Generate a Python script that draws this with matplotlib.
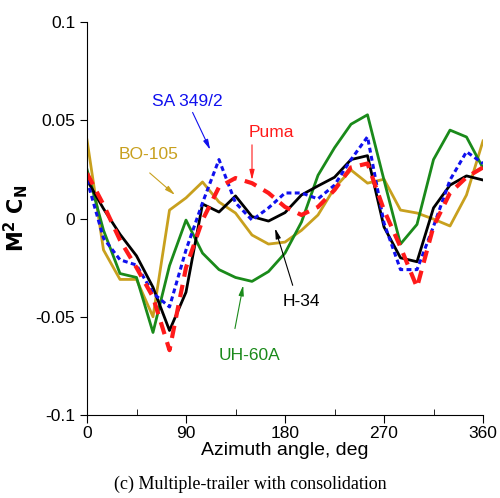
import matplotlib
matplotlib.use('Agg')
import matplotlib.pyplot as plt
import numpy as np

# azimuth stations (deg)
azimuth = [0, 15, 30, 45, 60, 75, 90, 105, 120, 135, 150, 165, 180,
           195, 210, 225, 240, 255, 270, 285, 300, 315, 330, 345, 360]

# M^2 C_N
h34 = [0.0196, 0.005, -0.008, -0.019, -0.035, -0.057, -0.0375, 0.0074, 0.0033,
       0.0115, 0.001, -0.0013, 0.003, 0.012, 0.0166, 0.021, 0.030, 0.032,
       -0.0043, -0.020, -0.022, 0.0054, 0.017, 0.0217, 0.0196]
uh60a = [0.025, -0.006, -0.028, -0.030, -0.058, -0.024, -0.0008, -0.0176, -0.026,
         -0.030, -0.032, -0.027, -0.0176, -0.0018, 0.022, 0.036, 0.048, 0.0528,
         0.0196, -0.013, -0.003, 0.030, 0.045, 0.0415, 0.0257]
bo105 = [0.040, -0.016, -0.031, -0.031, -0.050, 0.0043, 0.0105, 0.0186, 0.0084,
         0.0028, -0.0084, -0.013, -0.012, -0.006, 0.0018, 0.0156, 0.0247, 0.018,
         0.020, 0.0043, 0.0028, -0.0003, -0.0038, 0.012, 0.0395]
sa349 = [0.0196, -0.010, -0.021, -0.0237, -0.038, -0.045, -0.016, 0.008, 0.030,
         0.008, -0.0008, 0.0054, 0.013, 0.013, 0.010, 0.017, 0.030, 0.0416,
         -0.0023, -0.026, -0.026, -0.004, 0.0196, 0.034, 0.028]
puma = [0.023, 0.007, -0.011, -0.025, -0.040, -0.067, -0.025, -0.0008, 0.016,
        0.0206, 0.018, 0.013, 0.0059, 0.0018, 0.0059, 0.0145, 0.026, 0.028,
        0.0043, -0.0145, -0.035, -0.004, 0.013, 0.021, 0.026]

plt.rcParams['font.family'] = ['Liberation Sans', 'DejaVu Sans']

fig = plt.figure(figsize=(5.0, 4.98), dpi=100)
ax = fig.add_axes([0.174, 0.1667, 0.792, 0.789])

ax.plot(azimuth, bo105, color='#c8a01e', lw=2)
ax.plot(azimuth, uh60a, color='#1a8a1a', lw=2)
ax.plot(azimuth, h34, color='black', lw=2)
ax.plot(azimuth, sa349, color='#1010ee', lw=2.2, linestyle=(0, (1.6, 1.1)))
ax.plot(azimuth, puma, color='#ff1a1a', lw=3, linestyle=(0, (3, 2)))

ax.set_xlim(0, 360)
ax.set_ylim(-0.1, 0.1)
ax.set_xticks([0, 90, 180, 270, 360])
ax.set_xticks([45, 135, 225, 315], minor=True)
ax.set_yticks([-0.1, -0.05, 0, 0.05, 0.1])
ax.set_yticklabels(['-0.1', '-0.05', '0', '0.05', '0.1'])
ax.tick_params(axis='x', which='major', direction='out', length=6, labelsize=12.5, pad=2)
ax.tick_params(axis='x', which='minor', direction='in', length=4)
ax.tick_params(axis='y', direction='out', length=5, labelsize=12.5)
ax.spines['top'].set_visible(False)
ax.spines['right'].set_visible(False)

ax.set_xlabel('Azimuth angle, deg', fontsize=14, labelpad=1)
ax.set_ylabel(r'$\mathbf{M^2\ C_N}$', fontsize=15, labelpad=4)

def arrow(xy_text, xy_head, color):
    ax.annotate('', xy=xy_head, xytext=xy_text,
                arrowprops=dict(arrowstyle='-|>,head_length=0.6,head_width=0.15',
                                color=color, lw=0.8, shrinkA=0, shrinkB=0))

ax.text(91, 0.0594, 'SA 349/2', color='#1010ee', fontsize=12.5, ha='center', va='center')
arrow((96, 0.054), (112, 0.035), '#1010ee')
ax.text(168, 0.0436, 'Puma', color='#ff1a1a', fontsize=12.5, ha='center', va='center')
arrow((150, 0.0375), (150, 0.0196), '#ff1a1a')
ax.text(56, 0.0324, 'BO-105', color='#c8a01e', fontsize=12.5, ha='center', va='center')
arrow((57, 0.0232), (80, 0.012), '#c8a01e')
ax.text(194.5, -0.042, 'H-34', color='black', fontsize=12.5, ha='center', va='center')
arrow((187, -0.034), (171, -0.005), 'black')
ax.text(148, -0.0696, 'UH-60A', color='#1a8a1a', fontsize=12.5, ha='center', va='center')
arrow((134.5, -0.056), (142, -0.034), '#1a8a1a')

fig.text(0.5, 0.018, '(c) Multiple-trailer with consolidation', ha='center',
         fontsize=13, family=['Liberation Serif', 'DejaVu Serif'])

fig.savefig('out.png', dpi=100)
